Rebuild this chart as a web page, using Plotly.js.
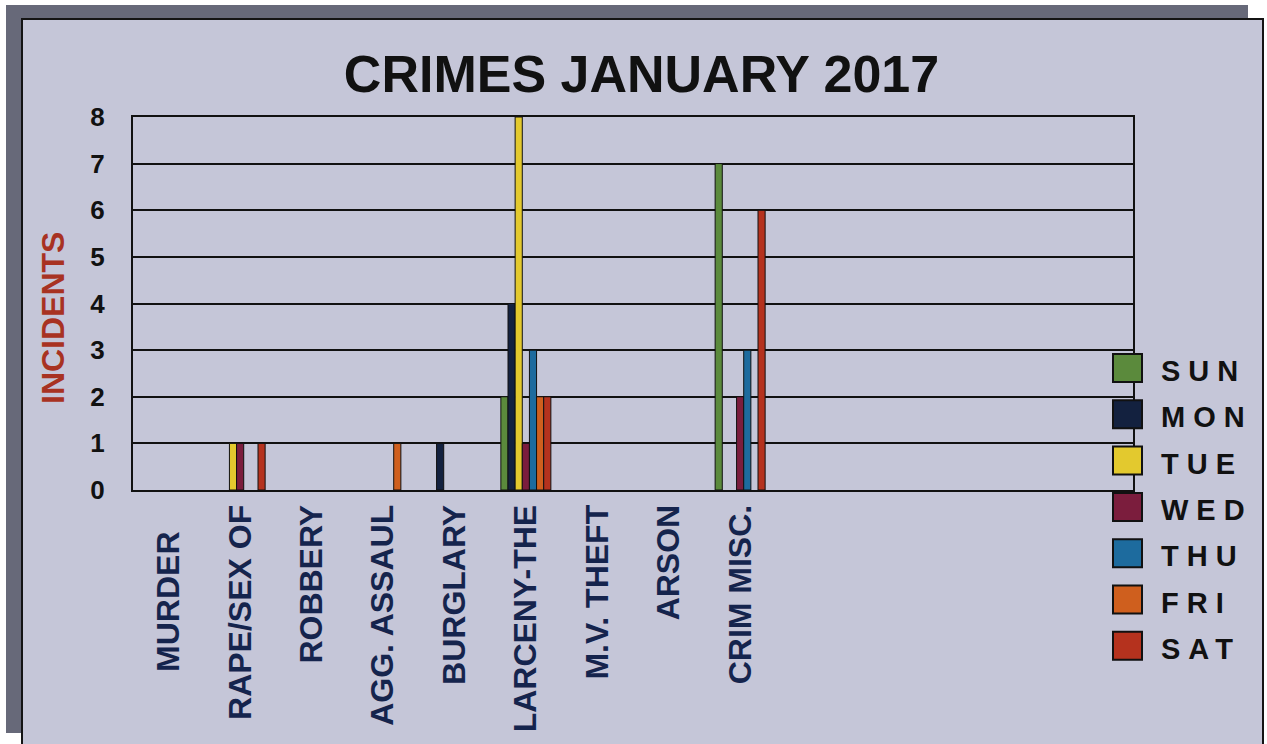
<!DOCTYPE html>
<html><head><meta charset="utf-8">
<script src="https://cdn.plot.ly/plotly-3.0.1.min.js"></script>
<style>
body{margin:0;background:#fff;}
#wrap{position:relative;width:1267px;height:744px;overflow:hidden;background:#fff;}
#shadow{position:absolute;left:6px;top:5px;width:1242px;height:728px;background:#676979;}
#panel{position:absolute;left:21px;top:18px;width:1239px;height:740px;background:#c5c6d8;border:2px solid #141414;}
#chart{position:absolute;left:0;top:0;width:1267px;height:744px;}
</style></head>
<body>
<div id="wrap"><div id="shadow"></div><div id="panel"></div><div id="chart"></div></div>
<script>
var categories = ["MURDER\u00a0\u00a0\u00a0","RAPE/SEX OF","ROBBERY","AGG. ASSAUL","BURGLARY","LARCENY-THE","M.V. THEFT","ARSON","CRIM MISC."];
var seriesNames = ["SUN","MON","TUE","WED","THU","FRI","SAT"];
var seriesColors = ["#5b8a3c","#13213f","#e3c92e","#7b1d3d","#1d6b9e","#cf5f1e","#b5321e"];
var sun = [0,0,0,0,0,2,0,0,7];
var mon = [0,0,0,0,1,4,0,0,0];
var tue = [0,1,0,0,0,8,0,0,0];
var wed = [0,1,0,0,0,1,0,0,2];
var thu = [0,0,0,0,0,3,0,0,3];
var fri = [0,0,0,1,0,2,0,0,0];
var sat = [0,1,0,0,0,2,0,0,6];
var seriesValues = [sun,mon,tue,wed,thu,fri,sat];
var yTicks = [0,1,2,3,4,5,6,7,8];

var traces = seriesNames.map(function(n,i){
  return {type:'bar', name:n, x:categories, y:seriesValues[i],
    marker:{color:seriesColors[i], line:{color:'#111', width:seriesValues[i].map(function(v){return v>0?1:0;})}},
    showlegend:false};
});

var shapes = [], annotations = [];
seriesNames.forEach(function(n,i){
  var yc = (490 - (368 + i*46.3))/373;
  var half = 14/373;
  shapes.push({type:'rect', xref:'paper', yref:'paper', x0:0.980, x1:1.009, y0:yc-half, y1:yc+half,
    fillcolor:seriesColors[i], line:{color:'#111', width:2}, layer:'above'});
  annotations.push({xref:'paper', yref:'paper', x:1.026, y:(490-(371+i*46.3))/373, xanchor:'left', yanchor:'middle',
    showarrow:false, text:'<span style="letter-spacing:8px">'+n+'</span>',
    font:{family:'Liberation Sans, Arial, sans-serif', size:29, color:'#111', weight:'bold'}});
});
annotations.push({xref:'paper', yref:'paper', x:(53-133)/1000, y:(490-318)/373, xanchor:'center', yanchor:'middle',
  textangle:-90, showarrow:false, text:'INCIDENTS',
  font:{family:'Liberation Sans, Arial, sans-serif', size:32, color:'#a83222', weight:'bold'}});

var layout = {
  width:1267, height:744,
  margin:{l:133, r:134, t:117, b:254, pad:0},
  paper_bgcolor:'rgba(0,0,0,0)', plot_bgcolor:'rgba(0,0,0,0)',
  barmode:'group', bargap:0.3, bargroupgap:0,
  title:{text:'CRIMES JANUARY 2017', xref:'container', yref:'container', x:641.5/1267, y:1-74/744,
    xanchor:'center', yanchor:'middle',
    font:{family:'Liberation Sans, Arial, sans-serif', size:52, color:'#111', weight:'bold'}},
  xaxis:{type:'category', range:[-0.5,13.5], showgrid:false, showline:true, mirror:true, linecolor:'#111', linewidth:2,
    ticks:'', tickangle:-90, ticklabelstandoff:0,
    tickfont:{family:'Liberation Sans, Arial, sans-serif', size:32, color:'#15244d', weight:'bold'}},
  yaxis:{range:[0,8], tickvals:yTicks, showgrid:true, gridcolor:'#111', gridwidth:2, zeroline:false,
    showline:true, mirror:true, linecolor:'#111', linewidth:2, ticks:'', ticklabelstandoff:21,
    tickfont:{family:'Liberation Sans, Arial, sans-serif', size:26, color:'#111', weight:'bold'}},
  shapes:shapes, annotations:annotations
};
Plotly.newPlot('chart', traces, layout, {displayModeBar:false, staticPlot:true});
</script>
</body></html>
